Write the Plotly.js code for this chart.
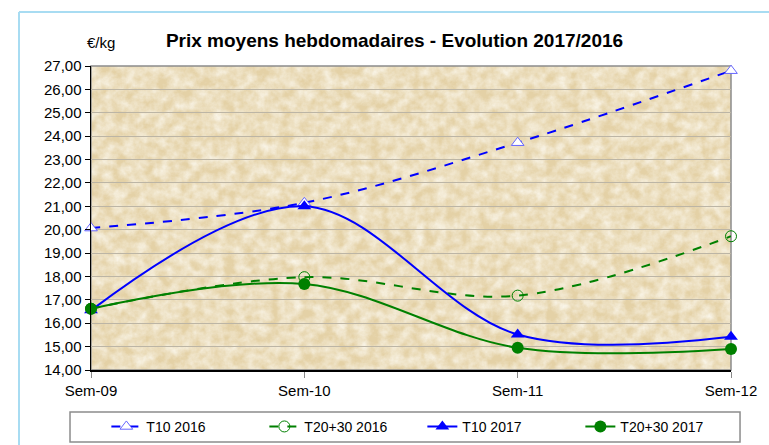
<!DOCTYPE html>
<html><head><meta charset="utf-8">
<script src="https://cdn.plot.ly/plotly-3.0.1.min.js"></script>
<style>html,body{margin:0;padding:0;background:#fff;}#chart{width:769px;height:445px;}</style>
</head><body><div id="chart"></div>
<script>
const weeks = ["Sem-09", "Sem-10", "Sem-11", "Sem-12"];
const t10_2016 = [20.07, 21.15, 23.72, 26.80];
const t2030_2016 = [16.62, 17.97, 17.18, 19.72];
const t10_2017 = [16.55, 21.00, 15.52, 15.42];
const t2030_2017 = [16.62, 17.68, 14.95, 14.90];
const yTicks = [14, 15, 16, 17, 18, 19, 20, 21, 22, 23, 24, 25, 26, 27];

const BLUE = "#0000ff", GREEN = "#008000";
const svg = '<svg xmlns="http://www.w3.org/2000/svg" width="640" height="304">' +
  '<filter id="f" x="0" y="0" width="100%" height="100%"><feTurbulence type="fractalNoise" baseFrequency="0.09" numOctaves="4" seed="11"/>' +
  '<feColorMatrix type="matrix" values="0 0 0 0 0.96  0 0 0 0 0.925  0 0 0 0 0.83  1.4 0 0 0 -0.35"/></filter>' +
  '<rect width="640" height="304" fill="#e4d1a6"/><rect width="640" height="304" filter="url(#f)"/></svg>';
const bg = "data:image/svg+xml;charset=utf-8," + encodeURIComponent(svg);

const traces = [
  {x: weeks, y: t10_2016, name: "T10 2016", mode: "lines+markers", cliponaxis: false,
   line: {color: BLUE, width: 2, dash: "dash", shape: "spline"},
   marker: {symbol: "triangle-up", size: 11, color: "#ffffff", line: {color: "#6666ff", width: 1}}},
  {x: weeks, y: t2030_2016, name: "T20+30 2016", mode: "lines+markers", cliponaxis: false,
   line: {color: GREEN, width: 2, dash: "dash", shape: "spline"},
   marker: {symbol: "circle-open", size: 11, color: GREEN, line: {width: 1}}},
  {x: weeks, y: t10_2017, name: "T10 2017", mode: "lines+markers", cliponaxis: false,
   line: {color: BLUE, width: 2, shape: "spline"},
   marker: {symbol: "triangle-up", size: 12, color: BLUE}},
  {x: weeks, y: t2030_2017, name: "T20+30 2017", mode: "lines+markers", cliponaxis: false,
   line: {color: GREEN, width: 2, shape: "spline"},
   marker: {symbol: "circle", size: 12, color: GREEN}}
];

const layout = {
  width: 769, height: 445,
  margin: {l: 91, r: 38, t: 66, b: 75, autoexpand: false},
  paper_bgcolor: "#ffffff", plot_bgcolor: "#eadbb5",
  font: {family: "Arial, 'Liberation Sans', sans-serif", color: "#000", size: 15},
  separators: ", ",
  title: {text: "<b>Prix moyens hebdomadaires - Evolution 2017/2016</b>", font: {size: 19, color: "#000"},
          x: 0.513, xanchor: "center", y: 0.91, yanchor: "middle"},
  xaxis: {type: "category", range: [0, 3], showgrid: false, showline: true, linecolor: "#000", linewidth: 1.5,
          ticks: "outside", ticklen: 6, tickcolor: "#888", tickfont: {size: 15}, zeroline: false, fixedrange: true},
  yaxis: {range: [14, 27], tickvals: yTicks, tickformat: ".2f", showgrid: true, gridcolor: "#bcb5a5", gridwidth: 1,
          showline: true, linecolor: "#000", linewidth: 1.5, ticks: "outside", ticklen: 5, tickcolor: "#000",
          tickfont: {size: 15}, zeroline: false, fixedrange: true},
  showlegend: true,
  legend: {orientation: "h", x: 0.024, xanchor: "left", y: -0.187, yanchor: "middle", bgcolor: "rgba(0,0,0,0)",
           font: {size: 14}, borderwidth: 0, entrywidth: 113, entrywidthmode: "pixels"},
  images: [{source: bg, xref: "paper", yref: "paper", x: 0, y: 1, sizex: 1, sizey: 1, sizing: "stretch", layer: "below"}],
  shapes: [
    {type: "rect", xref: "paper", yref: "paper", x0: 0, x1: 1, y0: 0, y1: 1, line: {color: "#8c8c8c", width: 1.5}, layer: "below"},
    {type: "rect", xref: "paper", yref: "paper", x0: -0.0328, x1: 1.0141, y0: -0.2368, y1: -0.138, line: {color: "#8c8c8c", width: 1.5}, fillcolor: "#ffffff", layer: "below"},
    {type: "line", xref: "paper", yref: "paper", x0: -0.1125, x1: -0.1125, y0: -0.5, y1: 1.1776, line: {color: "#a8dcf2", width: 2}},
    {type: "line", xref: "paper", yref: "paper", x0: -0.1125, x1: 1.2, y0: 1.1776, y1: 1.1776, line: {color: "#a8dcf2", width: 2}}
  ],
  annotations: [{text: "€/kg", xref: "paper", yref: "paper", x: 0.0156, y: 1.077, xanchor: "center", yanchor: "middle",
                 showarrow: false, font: {size: 15}}]
};
Plotly.newPlot("chart", traces, layout, {displayModeBar: false, staticPlot: true});
</script></body></html>
